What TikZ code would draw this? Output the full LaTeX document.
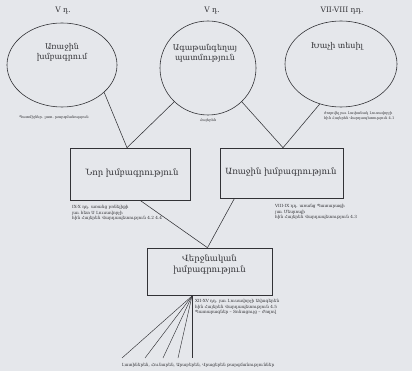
\documentclass[tikz,border=0pt]{standalone}
\usepackage{fontspec}
\setmainfont{DejaVu Serif}
\usetikzlibrary{shapes.geometric}
\definecolor{paper}{RGB}{229,231,235}
\definecolor{ink}{RGB}{50,50,54}
\tikzset{
  oval/.style={ellipse, draw=ink, line width=0.6pt, inner sep=0pt},
  box/.style={rectangle, draw=ink, line width=0.6pt, inner sep=0pt},
  lbl/.style={text=ink, font=\fontsize{8}{10}\selectfont, align=center, inner sep=0pt},
  boxlbl/.style={text=ink, font=\fontsize{8.5}{11}\selectfont, align=center, inner sep=0pt},
  head/.style={text=ink, font=\fontsize{7.5}{8}\selectfont, inner sep=0pt},
  smallcap/.style={text=ink, font=\fontsize{3.6}{5.2}\selectfont, align=left, inner sep=0pt},
  boxcap/.style={text=ink, font=\fontsize{4.2}{5.6}\selectfont, align=left, inner sep=0pt},
  conn/.style={draw=ink, line width=0.55pt}
}
\begin{document}
\begin{tikzpicture}[x=1pt,y=-1pt]
\fill[paper] (0,0) rectangle (412,371);
\useasboundingbox (0,0) rectangle (412,371);
% headings
\node[head] (h1) at (63,11) {V դ.};
\node[head] (h2) at (212,11) {V դ.};
\node[head] (h3) at (342,11) {VII-VIII դդ.};
% ellipses
\node[oval, minimum width=110pt, minimum height=84pt] (e1) at (62,65) {};
\node[oval, minimum width=96pt, minimum height=94pt] (e2) at (208,68) {};
\node[oval, minimum width=112pt, minimum height=86pt] (e3) at (341,64) {};
\node[lbl] (t1) at (62,52) {Առաջին\\խմբագրում};
\node[lbl] (t2) at (205,53.5) {Ագաթանգեղայ\\պատմություն};
\node[lbl] (t3) at (337,46) {Խաչի տեսիլ};
% captions under ellipses
\node[smallcap] (c1) at (54,117) {Պատմիչներ. լատ. թարգմանություն};
\node[smallcap] (c2) at (208,120) {Հայերեն};
\node[smallcap, anchor=west] (c3) at (324,116) {ժողովել յաւ Լափանակ Լուսավորչի\\հին Հայերեն Վարդապետություն 4.1};
% boxes
\node[box, minimum width=120pt, minimum height=52pt] (b1) at (130,174) {};
\node[box, minimum width=123pt, minimum height=50pt] (b2) at (281.5,173) {};
\node[box, minimum width=125pt, minimum height=47pt] (b3) at (209.5,271.5) {};
\node[boxlbl] (tb1) at (132,173) {Նոր խմբագրություն};
\node[boxlbl] (tb2) at (281,172) {Առաջին խմբագրություն};
\node[boxlbl] (tb3) at (209.5,265) {Վերջնական\\խմբագրություն};
% box captions
\node[boxcap, anchor=north west] (cb1) at (72,205) {IX-X դդ. առանց բռնելիքի\\յաւ հետ Ս Լուսավորչի\\հին Հայերեն Վարդապետություն 4.2 4.4};
\node[boxcap, anchor=north west] (cb2) at (275,204) {VIII-IX դդ. առանց Պատարագի\\յաւ Մեսրոպի\\հին Հայերեն Վարդապետություն 4.3};
\node[boxcap, anchor=north west] (cb3) at (195,299) {XII-XV դդ. յաւ Լուսավորչի Ավագերեն\\հին Հայերեն Վարդապետություն 4.5\\Պատարագներ – Տոնացույց – Ժողով};
% connectors ellipses -> boxes
\draw[conn] (e1.-33) -- ([xshift=-3pt]b1.north);
\draw[conn] (e2.-135) -- ([xshift=-3pt]b1.north);
\draw[conn] (e2.-45) -- ([xshift=1.5pt]b2.north);
\draw[conn] (e3.-118) -- ([xshift=1.5pt]b2.north);
% boxes -> final box
\draw[conn] ([xshift=10pt]b1.south) -- ([xshift=-2pt]b3.north);
\draw[conn] ([xshift=-47pt]b2.south) -- ([xshift=-2pt]b3.north);
% fan
\coordinate (f) at (192,296);
\coordinate (g1) at (122,358);
\coordinate (g2) at (145,358);
\coordinate (g3) at (163,358);
\coordinate (g4) at (178,358);
\coordinate (g5) at (192,358);
\foreach \g in {g1,g2,g3,g4,g5} \draw[conn, line width=0.45pt] (f) -- (\g);
\node[boxcap] (bt) at (198,365) {Լատիներեն, Հունարեն, Արաբերեն, Վրացերեն թարգմանություններ};
\end{tikzpicture}
\end{document}
